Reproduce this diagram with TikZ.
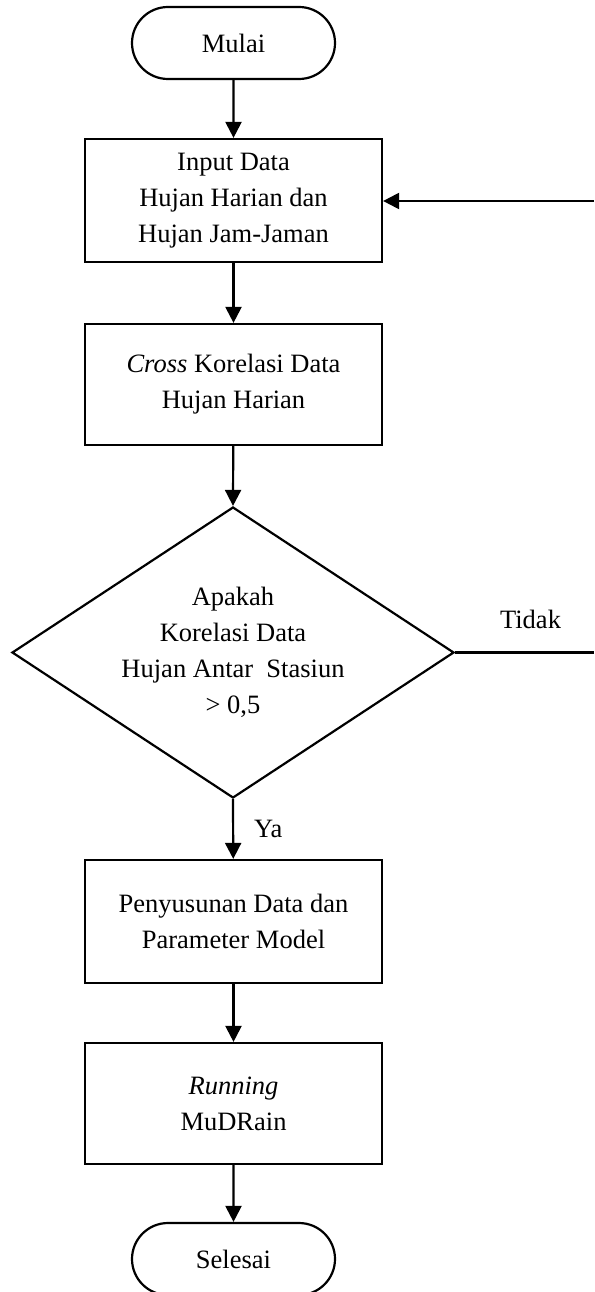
\documentclass[tikz,border=0pt]{standalone}
\usepackage{fontspec}
\setmainfont{Liberation Serif}
\usetikzlibrary{shapes.misc,shapes.geometric,arrows.meta}
\begin{document}
\begin{tikzpicture}[x=1pt,y=-1pt,
  font=\fontsize{26.5}{36}\selectfont,
  line width=2.2pt,
  proc/.style={draw, rectangle, minimum width=297pt, align=center, inner sep=0pt},
  term/.style={draw, rounded rectangle, minimum width=203pt, minimum height=72pt, inner sep=0pt},
  dec/.style={draw, diamond, minimum width=442pt, minimum height=291pt, inner sep=0pt},
  arr/.style={-{Triangle[width=16pt,length=16pt]}, line width=2.2pt},
  lbl/.style={inner sep=0pt, anchor=base}
]
\useasboundingbox (0,0) rectangle (594,1292);
\clip (0,0) rectangle (594,1292);
\node[term] (start) at (233.5,43) {Mulai};
\node[proc, minimum height=123pt] (input) at (233.5,200.5) {Input Data\\Hujan Harian dan\\Hujan Jam-Jaman};
\node[proc, minimum height=121pt] (cross) at (233.5,384.5) {\textit{Cross} Korelasi Data\\Hujan Harian};
\node[dec] (dec) at (233,652.5) {};
\node[align=center, inner sep=0pt] (dtext) at (233,652) {Apakah\\Korelasi Data\\Hujan Antar\ \ Stasiun\\> 0,5};
\node[proc, minimum height=123pt] (prep) at (233.5,921.5) {Penyusunan Data dan\\Parameter Model};
\node[proc, minimum height=121pt] (run) at (233.5,1103.5) {\textit{Running}\\MuDRain};
\node[term] (end) at (233.5,1259) {Selesai};
\coordinate (rin) at (594,201);
\coordinate (rout) at (594,652.5);
\node[lbl, anchor=base west] (tidak) at (499,628) {Tidak};
\node[lbl, anchor=base west] (ya) at (253,837) {Ya};

\draw[arr] (start) -- (input);
\draw[arr] (input) -- (cross);
\draw[arr] (cross) -- (dec.north);
\draw[arr] (dec.south) -- (prep);
\draw[arr] (prep) -- (run);
\draw[arr] (run) -- (end);
\draw[arr] (rin) -- (input.east |- rin);
\draw (dec.east) -- (rout);
\end{tikzpicture}
\end{document}
